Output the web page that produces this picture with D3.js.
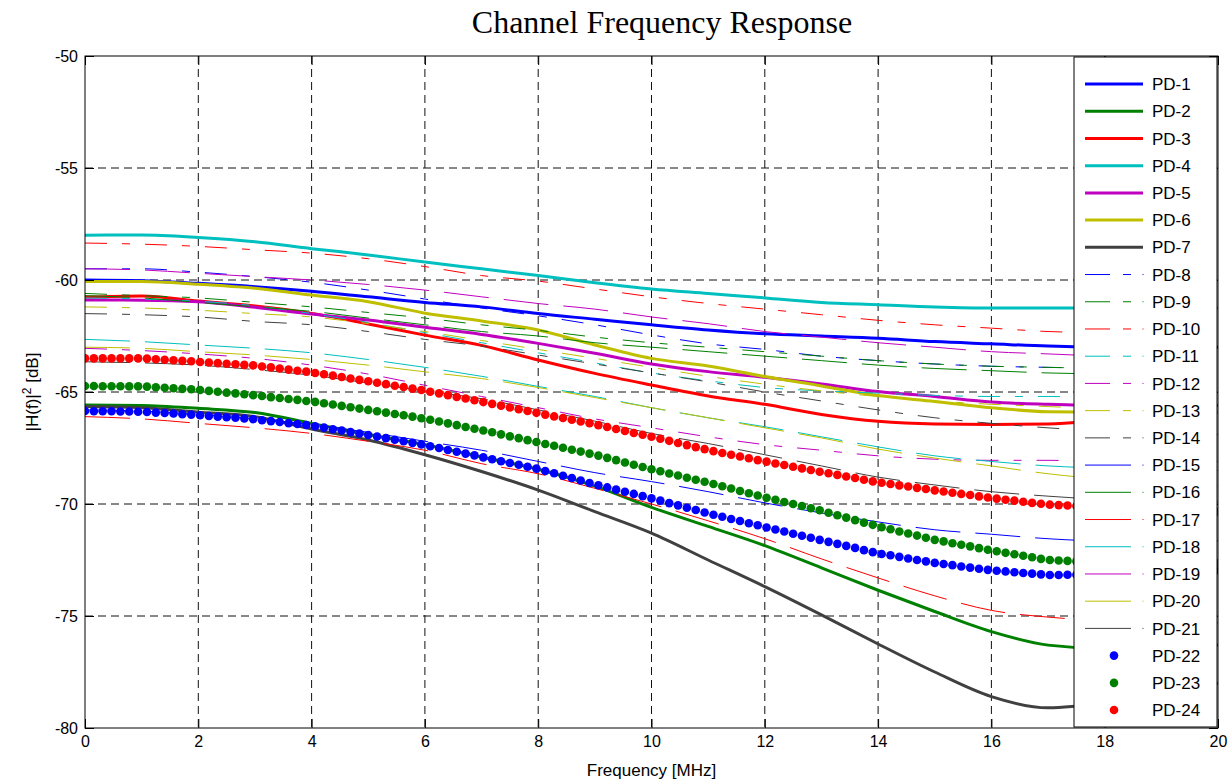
<!DOCTYPE html>
<html><head><meta charset="utf-8">
<script src="https://cdn.jsdelivr.net/npm/d3@7/dist/d3.min.js"></script>
<style>body{margin:0;background:#fff}svg{display:block}</style>
</head><body>
<svg id="chart" width="1230" height="782"></svg>
<script>
// ---------- data ----------
const freq = [0,1,2,3,4,5,6,7,8,9,10,11,12,13,14,15,16,17,18,19,20];
const xTicks = [0,2,4,6,8,10,12,14,16,18,20];
const yTicks = [-50,-55,-60,-65,-70,-75,-80];
const seriesNames = ["PD-1","PD-2","PD-3","PD-4","PD-5","PD-6","PD-7","PD-8","PD-9","PD-10","PD-11","PD-12",
  "PD-13","PD-14","PD-15","PD-16","PD-17","PD-18","PD-19","PD-20","PD-21","PD-22","PD-23","PD-24"];

const pd1  = [-60.0,-60.03,-60.15,-60.3,-60.5,-60.75,-61.0,-61.2,-61.5,-61.75,-62.0,-62.23,-62.4,-62.5,-62.6,-62.75,-62.85,-62.95,-63.0,-63.0,-63.0];
const pd2  = [-65.58,-65.6,-65.73,-65.92,-66.4,-66.9,-67.35,-67.9,-68.45,-69.2,-70.15,-71.0,-71.86,-72.85,-73.85,-74.8,-75.7,-76.3,-76.45,-76.4,-76.3];
const pd3  = [-60.76,-60.71,-60.94,-61.16,-61.49,-61.96,-62.46,-62.92,-63.57,-64.17,-64.69,-65.18,-65.55,-66.0,-66.31,-66.43,-66.45,-66.43,-66.25,-66.05,-65.9];
const pd4  = [-58.0,-57.99,-58.1,-58.29,-58.6,-58.88,-59.2,-59.5,-59.8,-60.12,-60.4,-60.6,-60.8,-61.0,-61.1,-61.2,-61.25,-61.25,-61.25,-61.25,-61.25];
const pd5  = [-60.89,-60.9,-60.97,-61.22,-61.52,-61.79,-62.11,-62.43,-62.83,-63.27,-63.75,-64.09,-64.34,-64.64,-64.98,-65.2,-65.45,-65.55,-65.6,-65.6,-65.6];
const pd6  = [-60.07,-60.07,-60.19,-60.37,-60.67,-60.97,-61.48,-61.83,-62.23,-62.9,-63.5,-63.84,-64.31,-64.73,-65.16,-65.42,-65.7,-65.88,-65.9,-65.9,-65.9];
const pd7  = [-65.65,-65.7,-65.9,-66.1,-66.65,-67.14,-67.8,-68.55,-69.38,-70.34,-71.3,-72.5,-73.69,-74.95,-76.25,-77.5,-78.6,-79.1,-78.9,-78.5,-78.0];
const pd8  = [-59.5,-59.5,-59.65,-59.85,-60.1,-60.45,-60.85,-61.25,-61.6,-62.0,-62.45,-62.85,-63.1,-63.4,-63.6,-63.75,-63.85,-63.9,-63.95,-64.0,-64.0];
const pd9  = [-60.6,-60.7,-60.8,-61.0,-61.2,-61.45,-61.7,-62.0,-62.25,-62.55,-62.8,-63.0,-63.2,-63.4,-63.6,-63.75,-63.85,-63.9,-63.95,-64.0,-64.0];
const pd10 = [-58.35,-58.4,-58.5,-58.65,-58.8,-59.05,-59.4,-59.8,-60.05,-60.4,-60.75,-61.05,-61.3,-61.55,-61.8,-62.0,-62.15,-62.3,-62.35,-62.4,-62.4];
const pd11 = [-60.8,-60.85,-60.95,-61.15,-61.5,-61.9,-62.35,-62.8,-63.25,-63.7,-64.15,-64.5,-64.8,-64.95,-65.05,-65.15,-65.2,-65.2,-65.25,-65.25,-65.3];
const pd12 = [-63.05,-63.15,-63.3,-63.5,-63.8,-64.2,-64.7,-65.2,-65.7,-66.2,-66.6,-67.0,-67.35,-67.6,-67.85,-68.0,-68.05,-68.05,-68.1,-68.1,-68.1];
const pd13 = [-61.2,-61.25,-61.35,-61.5,-61.65,-61.95,-62.3,-62.7,-63.1,-63.5,-63.9,-64.3,-64.65,-64.95,-65.2,-65.4,-65.55,-65.65,-65.75,-65.8,-65.85];
const pd14 = [-61.5,-61.55,-61.65,-61.85,-62.0,-62.3,-62.65,-62.95,-63.35,-63.75,-64.15,-64.55,-65.0,-65.4,-65.8,-66.15,-66.4,-66.6,-66.75,-66.85,-66.9];
const pd15 = [-65.8,-65.85,-66.0,-66.2,-66.45,-66.8,-67.2,-67.6,-68.1,-68.6,-69.0,-69.45,-69.95,-70.4,-70.8,-71.15,-71.35,-71.55,-71.65,-71.65,-71.65];
const pd16 = [-60.7,-60.8,-61.0,-61.2,-61.4,-61.7,-62.0,-62.3,-62.5,-62.8,-63.0,-63.2,-63.4,-63.6,-63.8,-63.95,-64.05,-64.15,-64.2,-64.25,-64.3];
const pd17 = [-66.1,-66.2,-66.4,-66.6,-66.85,-67.2,-67.6,-68.2,-68.65,-69.3,-70.0,-70.75,-71.55,-72.45,-73.3,-74.1,-74.75,-75.05,-75.2,-75.25,-75.3];
const pd18 = [-62.65,-62.75,-62.9,-63.05,-63.25,-63.55,-63.9,-64.3,-64.75,-65.2,-65.7,-66.15,-66.55,-67.0,-67.45,-67.85,-68.1,-68.3,-68.4,-68.45,-68.5];
const pd19 = [-59.5,-59.55,-59.7,-59.85,-60.0,-60.2,-60.45,-60.75,-61.05,-61.3,-61.65,-61.95,-62.3,-62.55,-62.8,-63.0,-63.2,-63.3,-63.4,-63.45,-63.5];
const pd20 = [-63.0,-63.05,-63.2,-63.35,-63.55,-63.8,-64.1,-64.4,-64.8,-65.25,-65.7,-66.15,-66.6,-67.05,-67.55,-67.95,-68.3,-68.65,-68.9,-69.1,-69.2];
const pd21 = [-63.65,-63.7,-63.8,-64.0,-64.25,-64.6,-64.95,-65.3,-65.8,-66.3,-66.85,-67.3,-67.8,-68.3,-68.8,-69.15,-69.45,-69.65,-69.8,-69.85,-69.9];

// dotted series are sampled every 0.15625 MHz (129 samples, 0..20 MHz)
const dotStep = 0.15625;
const pd22 = [-65.85,-65.86,-65.86,-65.86,-65.87,-65.87,-65.88,-65.89,-65.92,-65.94,-65.96,-65.99,-66.01,-66.04,-66.07,-66.10,
 -66.13,-66.15,-66.18,-66.21,-66.26,-66.30,-66.34,-66.39,-66.43,-66.47,-66.53,-66.59,-66.66,-66.72,-66.79,-66.85,
 -66.92,-66.99,-67.06,-67.13,-67.20,-67.27,-67.34,-67.42,-67.50,-67.59,-67.67,-67.75,-67.83,-67.92,-68.00,-68.09,
 -68.17,-68.25,-68.34,-68.42,-68.53,-68.63,-68.74,-68.84,-68.95,-69.06,-69.16,-69.26,-69.36,-69.45,-69.55,-69.65,
 -69.75,-69.85,-69.96,-70.06,-70.17,-70.27,-70.38,-70.48,-70.57,-70.67,-70.76,-70.86,-70.95,-71.05,-71.14,-71.23,
 -71.33,-71.42,-71.51,-71.60,-71.69,-71.78,-71.87,-71.96,-72.06,-72.15,-72.23,-72.29,-72.36,-72.43,-72.50,-72.56,
 -72.63,-72.68,-72.73,-72.79,-72.84,-72.89,-72.94,-72.98,-73.01,-73.05,-73.08,-73.11,-73.14,-73.17,-73.17,-73.16,
 -73.16,-73.16,-73.15,-73.15,-73.14,-73.12,-73.11,-73.09,-73.08,-73.06,-73.04,-73.03,-73.01,-73.00,-72.98,-72.97,-72.95];
const pd23 = [-64.73,-64.73,-64.74,-64.74,-64.74,-64.75,-64.75,-64.76,-64.79,-64.81,-64.83,-64.86,-64.88,-64.91,-64.95,-64.99,
 -65.03,-65.06,-65.10,-65.14,-65.18,-65.23,-65.27,-65.31,-65.35,-65.40,-65.44,-65.50,-65.56,-65.62,-65.68,-65.74,
 -65.80,-65.86,-65.92,-65.98,-66.04,-66.10,-66.17,-66.24,-66.32,-66.40,-66.48,-66.56,-66.64,-66.72,-66.80,-66.89,
 -66.98,-67.06,-67.15,-67.23,-67.32,-67.40,-67.49,-67.58,-67.66,-67.75,-67.84,-67.94,-68.04,-68.15,-68.25,-68.35,
 -68.45,-68.54,-68.64,-68.73,-68.83,-68.92,-69.01,-69.11,-69.21,-69.31,-69.42,-69.52,-69.62,-69.72,-69.81,-69.91,
 -70.00,-70.09,-70.19,-70.28,-70.39,-70.50,-70.61,-70.72,-70.83,-70.93,-71.04,-71.13,-71.23,-71.32,-71.41,-71.51,
 -71.60,-71.67,-71.75,-71.82,-71.89,-71.97,-72.04,-72.11,-72.18,-72.24,-72.31,-72.38,-72.45,-72.50,-72.52,-72.54,
 -72.56,-72.58,-72.60,-72.61,-72.62,-72.63,-72.63,-72.64,-72.64,-72.65,-72.65,-72.65,-72.65,-72.65,-72.65,-72.65,-72.65];
const pd24 = [-63.50,-63.50,-63.50,-63.50,-63.50,-63.50,-63.50,-63.51,-63.54,-63.56,-63.58,-63.61,-63.63,-63.66,-63.68,-63.71,
 -63.74,-63.76,-63.79,-63.81,-63.86,-63.90,-63.95,-64.00,-64.05,-64.09,-64.15,-64.21,-64.27,-64.33,-64.40,-64.46,
 -64.52,-64.59,-64.65,-64.72,-64.78,-64.85,-64.91,-64.99,-65.06,-65.14,-65.22,-65.29,-65.37,-65.45,-65.53,-65.61,
 -65.69,-65.77,-65.85,-65.93,-66.01,-66.09,-66.16,-66.24,-66.32,-66.39,-66.48,-66.56,-66.65,-66.74,-66.83,-66.91,
 -67.00,-67.09,-67.18,-67.28,-67.37,-67.46,-67.55,-67.64,-67.72,-67.80,-67.88,-67.96,-68.04,-68.11,-68.19,-68.26,
 -68.34,-68.41,-68.48,-68.56,-68.63,-68.70,-68.77,-68.84,-68.92,-68.99,-69.05,-69.11,-69.17,-69.22,-69.28,-69.33,
 -69.39,-69.44,-69.50,-69.55,-69.60,-69.66,-69.71,-69.76,-69.81,-69.85,-69.90,-69.95,-69.99,-70.03,-70.05,-70.07,
 -70.09,-70.11,-70.13,-70.15,-70.16,-70.18,-70.19,-70.21,-70.23,-70.24,-70.26,-70.27,-70.29,-70.30,-70.32,-70.33,-70.35];

const lineSeries = [pd1,pd2,pd3,pd4,pd5,pd6,pd7,pd8,pd9,pd10,pd11,pd12,pd13,pd14,pd15,pd16,pd17,pd18,pd19,pd20,pd21];
const dotSeries = [pd22,pd23,pd24];

// ---------- styles ----------
const palette = ["#0000ff","#008000","#ff0000","#00bfbf","#bf00bf","#bfbf00","#404040"];
const W = 1230, H = 782;
const L = 85, R = 1218, T = 56, B = 728;

const svg = d3.select("#chart");
const x = d3.scaleLinear().domain([0,20]).range([L,R]);
const y = d3.scaleLinear().domain([-80,-50]).range([B,T]);

svg.append("rect").attr("width",W).attr("height",H).attr("fill","#fff");

// title
svg.append("text").attr("x",662).attr("y",33).attr("text-anchor","middle")
  .attr("font-family","'Liberation Serif','Times New Roman',serif").attr("font-size",32)
  .text("Channel Frequency Response");

// grid
const g = svg.append("g");
g.selectAll(".vg").data(xTicks.filter(d=>d>0&&d<20)).enter().append("line")
  .attr("x1",d=>x(d)).attr("x2",d=>x(d)).attr("y1",T).attr("y2",B)
  .attr("stroke","#111").attr("stroke-width",1).attr("stroke-dasharray","8,5");
g.selectAll(".hg").data(yTicks.filter(d=>d>-80&&d<-50)).enter().append("line")
  .attr("y1",d=>y(d)).attr("y2",d=>y(d)).attr("x1",L).attr("x2",R)
  .attr("stroke","#111").attr("stroke-width",1).attr("stroke-dasharray","8,5");

// clip
svg.append("clipPath").attr("id","clip").append("rect").attr("x",L).attr("y",T).attr("width",R-L).attr("height",B-T);
const plot = svg.append("g").attr("clip-path","url(#clip)");

const lineGen = d3.line().x((d,i)=>x(freq[i])).y(d=>y(d)).curve(d3.curveMonotoneX);

function styleFor(i){
  const c = palette[i%7];
  if(i<7) return {c, w:3, dash:null};
  if(i<14) return {c, w:1, dash:"22,15,8,15"};
  return {c, w:1, dash:"45,15"};
}
lineSeries.forEach((s,i)=>{
  const st = styleFor(i);
  plot.append("path").datum(s).attr("d",lineGen).attr("fill","none")
    .attr("stroke",st.c).attr("stroke-width",st.w)
    .attr("stroke-dasharray",st.dash).attr("stroke-linejoin","round");
});
dotSeries.forEach((s,j)=>{
  plot.append("g").selectAll("circle").data(s).enter().append("circle")
    .attr("cx",(d,k)=>x(k*dotStep)).attr("cy",d=>y(d)).attr("r",4.3).attr("fill",palette[j]);
});

// axes box
svg.append("rect").attr("x",L).attr("y",T).attr("width",R-L).attr("height",B-T)
  .attr("fill","none").attr("stroke","#000").attr("stroke-width",1);

// axes with inner ticks
const fontSans = "'Liberation Sans',Arial,Helvetica,sans-serif";
const fmt = d => String(d);
const axB = d3.axisBottom(x).tickValues(xTicks).tickSize(-9).tickPadding(8).tickFormat(fmt);
const axT = d3.axisTop(x).tickValues(xTicks).tickSize(-9).tickFormat("");
const axLft = d3.axisLeft(y).tickValues(yTicks).tickSize(-9).tickPadding(7).tickFormat(fmt);
const axRgt = d3.axisRight(y).tickValues(yTicks).tickSize(-9).tickFormat("");
function styleAxis(sel){
  sel.select(".domain").remove();
  sel.selectAll("line").attr("stroke","#000");
  sel.selectAll("text").attr("font-family",fontSans).attr("font-size",16).attr("fill","#000");
}
svg.append("g").attr("transform",`translate(0,${B})`).call(axB).call(styleAxis);
svg.append("g").attr("transform",`translate(0,${T})`).call(axT).call(styleAxis);
svg.append("g").attr("transform",`translate(${L},0)`).call(axLft).call(styleAxis);
svg.append("g").attr("transform",`translate(${R},0)`).call(axRgt).call(styleAxis);

// axis labels
svg.append("text").attr("x",(L+R)/2).attr("y",776).attr("text-anchor","middle")
  .attr("font-family",fontSans).attr("font-size",17).text("Frequency [MHz]");
const yl = svg.append("text").attr("transform",`translate(38,${(T+B)/2}) rotate(-90)`).attr("text-anchor","middle")
  .attr("font-family",fontSans).attr("font-size",17);
yl.append("tspan").text("|H(f)|");
yl.append("tspan").attr("dy",-7).attr("font-size",12).text("2");
yl.append("tspan").attr("dy",7).text(" [dB]");

// legend
const lg = svg.append("g");
const LX0 = 1074, LX1 = 1217, LY0 = 57, LY1 = 727;
lg.append("rect").attr("x",LX0).attr("y",LY0).attr("width",LX1-LX0).attr("height",LY1-LY0)
  .attr("fill","#fff").attr("stroke","#000").attr("stroke-width",1);
seriesNames.forEach((name,i)=>{
  const yy = 84 + i*27.22;
  const c = palette[i%7];
  if(i<7){
    lg.append("line").attr("x1",1085).attr("x2",1143).attr("y1",yy).attr("y2",yy).attr("stroke",c).attr("stroke-width",3);
  } else if(i<21){
    lg.append("line").attr("x1",1085).attr("x2",1131).attr("y1",yy).attr("y2",yy).attr("stroke",c).attr("stroke-width",1)
      .attr("stroke-dasharray", i<14 ? "25,13" : null);
    lg.append("rect").attr("x",1142.5).attr("y",yy-0.5).attr("width",1).attr("height",1).attr("fill",c);
  } else {
    lg.append("circle").attr("cx",1114).attr("cy",yy).attr("r",4.3).attr("fill",palette[i-21]);
  }
  lg.append("text").attr("x",1152).attr("y",yy).attr("dy","0.36em")
    .attr("font-family",fontSans).attr("font-size",17).text(name);
});
</script>
</body></html>
